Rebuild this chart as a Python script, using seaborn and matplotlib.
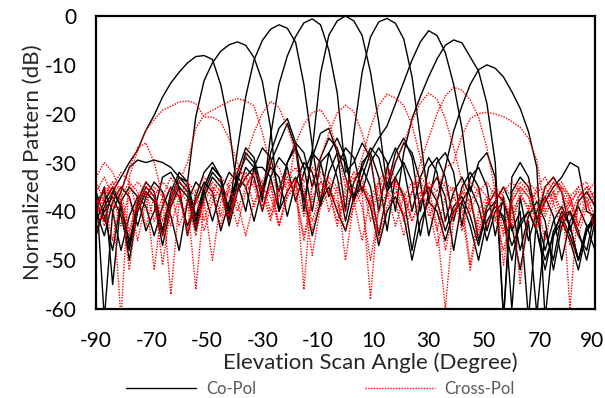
import numpy as np
import pandas as pd
import seaborn as sns
import matplotlib.pyplot as plt
import matplotlib.transforms as mtransforms
from matplotlib.lines import Line2D

# Scan angles (degrees), sampled every 3 degrees
angles = list(range(-90, 91, 3))

# Co-polar patterns (dB), one per scan beam
co_a = [-38, -42, -36, -33, -30, -27.5, -23.4, -20.3, -16.6, -13.7,
        -11.5, -9.6, -8.3, -8.1, -8.9, -14.1, -22.6, -36, -33, -31,
        -31, -33, -40, -36, -33, -37, -45, -38, -35, -40,
        -44, -37, -35, -39, -47, -40, -37, -41, -50, -42,
        -38, -40, -46, -40, -38, -43, -50, -42, -39, -41,
        -47, -43, -40, -44, -50, -45, -42, -46, -52, -44, -41]
co_b = [-35, -62, -40, -36, -31, -29.5, -30, -29.5, -30, -31,
        -33, -34, -20.6, -13.2, -9.6, -7.2, -5.9, -5.3, -6, -8.5,
        -13.4, -23, -40, -30, -27, -31, -40, -30, -28, -33,
        -42, -34, -31, -35, -45, -36, -33, -37, -48, -38,
        -35, -38, -44, -39, -37, -41, -47, -40, -38, -42,
        -50, -42, -40, -44, -52, -44, -41, -45, -50, -43, -42]
co_c = [-40, -35, -55, -38, -47, -38, -34, -36, -44, -36,
        -32, -34, -41, -35, -31, -33, -40, -27.5, -16.5, -9,
        -5, -2.7, -1.8, -2.5, -5.4, -14, -26.6, -38, -28, -25,
        -29, -38, -30, -28, -33, -44, -33, -30, -34, -45,
        -36, -33, -37, -48, -38, -35, -39, -46, -40, -38,
        -43, -52, -42, -61, -44, -50, -41, -40, -45, -48, -40]
co_d = [-36, -41, -48, -38, -35, -37, -44, -40, -33, -32,
        -35, -45, -37, -32, -30, -33, -42, -34, -28, -30,
        -38, -24.4, -14, -8.2, -4.2, -1.4, -0.6, -1.8, -7, -15.7,
        -32, -30, -26, -29, -40, -31, -27, -31, -40, -33,
        -29, -32, -42, -36, -33, -37, -46, -39, -36, -38,
        -44, -40, -62, -41, -48, -42, -39, -43, -50, -44, -40]
co_e = [-42, -38, -35, -39, -50, -40, -36, -38, -45, -38,
        -34, -36, -43, -36, -32, -34, -40, -33, -29, -31,
        -37, -30, -26, -22, -27, -40, -27.4, -11.8, -3.9, -1,
        0, -1, -4, -11.5, -21.8, -35, -28, -25, -29, -40,
        -31, -29, -33, -42, -35, -32, -35, -44, -38, -35,
        -39, -48, -41, -38, -42, -52, -43, -40, -44, -50, -42]
co_f = [-44, -40, -37, -41, -48, -39, -35, -37, -44, -37,
        -33, -35, -42, -35, -31, -33, -41, -32, -27, -29,
        -36, -28, -23, -21, -26, -38, -29, -24, -23, -28,
        -40, -24, -11.5, -4.3, -1.2, -0.5, -1.5, -4.7, -12.5, -25,
        -38, -30, -28, -32, -43, -33, -31, -35, -45, -37,
        -60, -37, -46, -40, -37, -41, -50, -42, -39, -43, -48]
co_g = [-40, -45, -38, -35, -37, -43, -37, -34, -36, -41,
        -48, -38, -34, -36, -42, -36, -32, -34, -40, -31,
        -27, -29, -36, -30, -26, -28, -35, -29, -25, -27,
        -33, -38, -33, -28, -25, -22.5, -18, -13.5, -9, -5.3,
        -3, -4, -7.5, -14, -23, -36, -30, -28, -33, -62,
        -36, -33, -35, -42, -38, -35, -33, -30, -31, -40, -41]
co_h = [-45, -39, -36, -39, -46, -40, -36, -38, -47, -39,
        -35, -37, -44, -37, -33, -35, -43, -36, -31, -33,
        -40, -33, -29, -31, -38, -32, -28, -30, -37, -31,
        -27, -29, -36, -30, -27, -30, -40, -28, -21, -16.5,
        -12.4, -8.8, -6, -4.9, -5.5, -8.4, -11.3, -17.9, -30, -62,
        -33, -30, -33, -42, -35, -33, -36, -44, -38, -36, -39]
co_i = [-38, -36, -40, -48, -41, -37, -39, -45, -39, -35,
        -37, -43, -38, -34, -36, -44, -38, -33, -35, -42,
        -35, -31, -33, -41, -34, -30, -32, -39, -32, -28,
        -30, -37, -31, -27, -29, -36, -30, -26, -28, -34,
        -45, -38, -31, -23.6, -18.4, -14, -11, -10, -10.7, -12.5,
        -15.5, -18.9, -23.7, -31, -62, -45, -40, -43, -50, -44, -42]

# Cross-polar patterns (dB), one per scan beam
cx_a = [-36, -33, -37, -62, -33, -27.5, -23.4, -21.2, -19.3, -18.5,
        -17.6, -17.4, -17.9, -20.7, -20.7, -21.7, -25.2, -30, -35, -32,
        -36, -42, -35, -33, -37, -46, -38, -34, -36, -43,
        -37, -35, -39, -50, -40, -36, -38, -45, -39, -36,
        -39, -47, -41, -37, -40, -52, -42, -38, -41, -48,
        -40, -37, -39, -44, -38, -36, -40, -47, -39, -37, -41]
cx_b = [-40, -36, -34, -38, -52, -39, -35, -37, -45, -38,
        -34, -30, -23, -20.3, -19.3, -18.4, -17.5, -16.9, -17.4, -18.4,
        -23.9, -31, -37, -33, -31, -35, -44, -37, -34, -36,
        -50, -38, -35, -37, -44, -37, -34, -36, -42, -38,
        -35, -37, -48, -40, -36, -38, -45, -39, -36, -38,
        -43, -37, -35, -38, -46, -38, -35, -37, -43, -38, -36]
cx_c = [-33, -30, -32, -36, -31, -27, -26, -30, -37, -33,
        -36, -45, -38, -35, -37, -43, -35, -32, -29, -23.8,
        -19.9, -17.5, -18.7, -22.7, -28, -34, -31, -33, -40, -35,
        -33, -38, -46, -37, -34, -36, -43, -37, -34, -35,
        -41, -38, -34, -36, -44, -38, -35, -37, -42, -36,
        -34, -36, -40, -35, -33, -36, -42, -37, -35, -38, -44]
cx_d = [-38, -42, -35, -32, -34, -40, -36, -52, -38, -35,
        -37, -44, -36, -33, -35, -41, -34, -31, -33, -39,
        -34, -30, -31, -36, -26, -22.2, -19.8, -19.2, -21.7, -27.4,
        -35, -32, -34, -42, -35, -32, -34, -41, -36, -33,
        -35, -43, -60, -41, -36, -38, -44, -38, -35, -37,
        -42, -36, -34, -36, -41, -37, -35, -38, -45, -39, -37]
cx_e = [-34, -38, -46, -37, -34, -36, -43, -37, -34, -36,
        -43, -38, -56, -38, -35, -37, -42, -36, -33, -35,
        -40, -34, -43, -36, -33, -56, -34, -29, -24, -19.8,
        -18.3, -19.6, -24, -30, -38, -33, -35, -42, -36, -34,
        -37, -44, -37, -35, -38, -51, -40, -37, -39, -45,
        -38, -35, -37, -42, -37, -34, -36, -41, -37, -35, -39]
cx_f = [-45, -37, -34, -36, -44, -38, -35, -37, -51, -39,
        -36, -38, -45, -37, -34, -36, -41, -35, -32, -34,
        -39, -35, -43, -37, -34, -36, -42, -36, -33, -35,
        -40, -34, -29, -22.8, -18.3, -16, -16.8, -18.3, -22.3, -29,
        -36, -33, -35, -41, -36, -34, -36, -43, -38, -35,
        -37, -55, -39, -36, -35, -38, -44, -38, -36, -38, -43]
cx_g = [-39, -35, -37, -43, -36, -34, -36, -42, -37, -57,
        -38, -35, -37, -44, -38, -35, -37, -43, -36, -34,
        -36, -41, -37, -34, -36, -45, -37, -34, -36, -42,
        -36, -33, -36, -58, -37, -33, -30, -26, -21.5, -17.8,
        -15.8, -17, -21, -27, -34, -40, -36, -34, -37, -44,
        -37, -34, -36, -40, -35, -33, -35, -60, -37, -35, -37]
cx_h = [-37, -43, -38, -35, -37, -46, -38, -35, -37, -43,
        -37, -34, -36, -42, -36, -33, -35, -40, -35, -32,
        -34, -40, -35, -32, -34, -41, -35, -32, -34, -40,
        -35, -32, -33, -39, -34, -31, -33, -38, -36, -30,
        -25, -20, -16.4, -14.6, -15.2, -17.2, -20.7, -27, -36, -51,
        -38, -35, -37, -43, -37, -34, -36, -39, -35, -34, -38]
cx_i = [-41, -37, -35, -38, -45, -37, -34, -36, -42, -37,
        -34, -36, -43, -38, -50, -38, -36, -38, -45, -38,
        -35, -37, -43, -37, -35, -37, -49, -39, -36, -38,
        -44, -39, -36, -38, -46, -39, -36, -37, -42, -37,
        -34, -36, -31, -30, -24.5, -21, -20, -19.7, -20.1, -20.6,
        -21.6, -22.8, -25, -29.5, -40, -36, -34, -37, -43, -36, -34]

co_pol = [co_a, co_b, co_c, co_d, co_e, co_f, co_g, co_h, co_i]
cross_pol = [cx_a, cx_b, cx_c, cx_d, cx_e, cx_f, cx_g, cx_h, cx_i]

rows = []
for k, series in enumerate(co_pol):
    for a, v in zip(angles, series):
        rows.append(("Co-Pol", f"co{k}", a, v))
for k, series in enumerate(cross_pol):
    for a, v in zip(angles, series):
        rows.append(("Cross-Pol", f"cx{k}", a, v))
df = pd.DataFrame(rows, columns=["pol", "beam", "angle", "dB"])

sns.set_theme(style="white")
plt.rcParams['font.family'] = ['Lato', 'DejaVu Sans']
plt.rcParams['axes.unicode_minus'] = False

fig = plt.figure(figsize=(6.05, 3.98), dpi=100)
ax = fig.add_axes([0.1587, 0.2236, 0.8248, 0.7362])

sns.lineplot(data=df, x="angle", y="dB", units="beam", estimator=None,
             hue="pol", style="pol",
             palette={"Co-Pol": "black", "Cross-Pol": "red"},
             dashes={"Co-Pol": "", "Cross-Pol": (1, 1)},
             linewidth=1.0, sort=False, legend=False, ax=ax)

ax.set_xlim(-90, 90)
ax.set_ylim(-60, 0)
ax.set_xticks(range(-90, 91, 20))
ax.set_yticks(range(-60, 1, 10))
ax.tick_params(length=0, labelsize=15, colors="black")
ax.tick_params(axis="y", pad=14)
ax.tick_params(axis="x", pad=15.5)
for s in ax.spines.values():
    s.set_color("black")
    s.set_linewidth(1.6)
ax.set_xlabel("Elevation Scan Angle (Degree)", fontsize=16)
ax.xaxis.set_label_coords(0.549, -0.148)
ax.set_ylabel("Normalized Pattern (dB)", fontsize=16, labelpad=1)

# keep the last x tick label inside the canvas
last = ax.get_xticklabels()[-1]
last.set_transform(last.get_transform() +
                   mtransforms.ScaledTranslation(-3 / 100, 0, fig.dpi_scale_trans))

handles = [Line2D([], [], color="black", lw=1.0),
           Line2D([], [], color="red", lw=1.0, ls=(0, (1, 1)))]
fig.legend(handles, ["Co-Pol", "Cross-Pol"], loc="lower center",
           bbox_to_anchor=(0.53, -0.035), ncol=2, frameon=False,
           fontsize=12, handlelength=4.2, handletextpad=0.6,
           columnspacing=6.5, labelcolor="#595959")

fig.savefig("out.png", dpi=100)
